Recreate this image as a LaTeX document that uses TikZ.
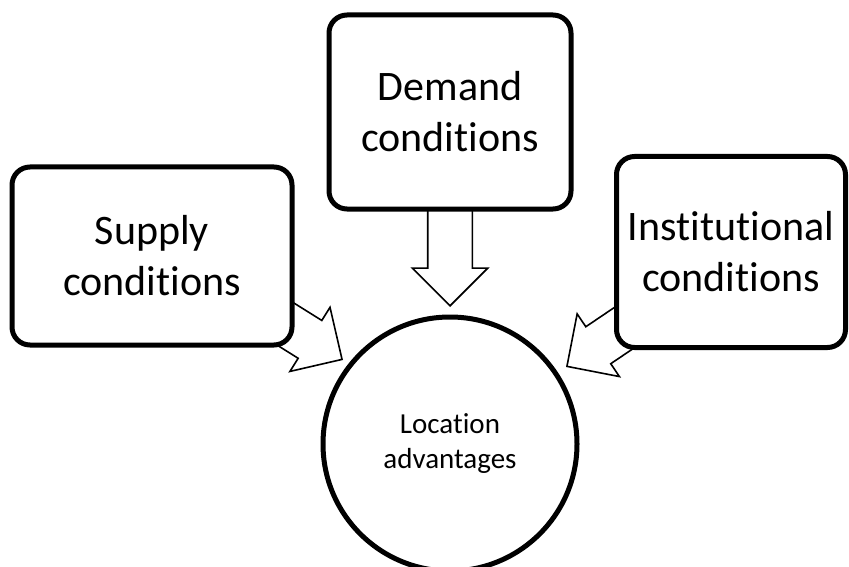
\documentclass[tikz,border=0pt]{standalone}
\usepackage{fontspec}
\setmainfont{Carlito}[Ligatures={NoCommon}]
\usetikzlibrary{shapes.arrows}

\tikzset{
  factor/.style={draw, line width=5pt, rounded corners=18pt, fill=white, align=center, inner sep=4pt, font=\fontsize{42}{51}\selectfont},
  blockarrow/.style={single arrow, draw, line width=1.6pt, fill=white, minimum height=110pt, inner sep=21.5pt, single arrow head extend=15.5pt, single arrow tip angle=90, single arrow head indent=0pt, anchor=tip},
}

\begin{document}
\begin{tikzpicture}[x=1pt,y=-1pt]
\useasboundingbox (0,0) rectangle (849,567);
% arrows go first, the boxes hide their tails
\node[blockarrow, rotate=-90] (darr) at (450,307) {};
\node[blockarrow, rotate=-32] (sarr) at (343,360) {};
\node[blockarrow, rotate=-146] (iarr) at (566,367) {};
\node[factor, minimum width=280pt, minimum height=178pt] (supply) at (152,256) {Supply\\conditions};
\node[factor, minimum width=242pt, minimum height=194pt] (demand) at (450,112) {Demand\\conditions};
\node[factor, minimum width=229pt, minimum height=191pt] (inst) at (731,252) {Institutional\\conditions};
\node[draw, circle, line width=5pt, minimum size=254pt, align=center, font=\fontsize{29}{35}\selectfont] (loc) at (450,444) {Location\\advantages};
\end{tikzpicture}
\end{document}
